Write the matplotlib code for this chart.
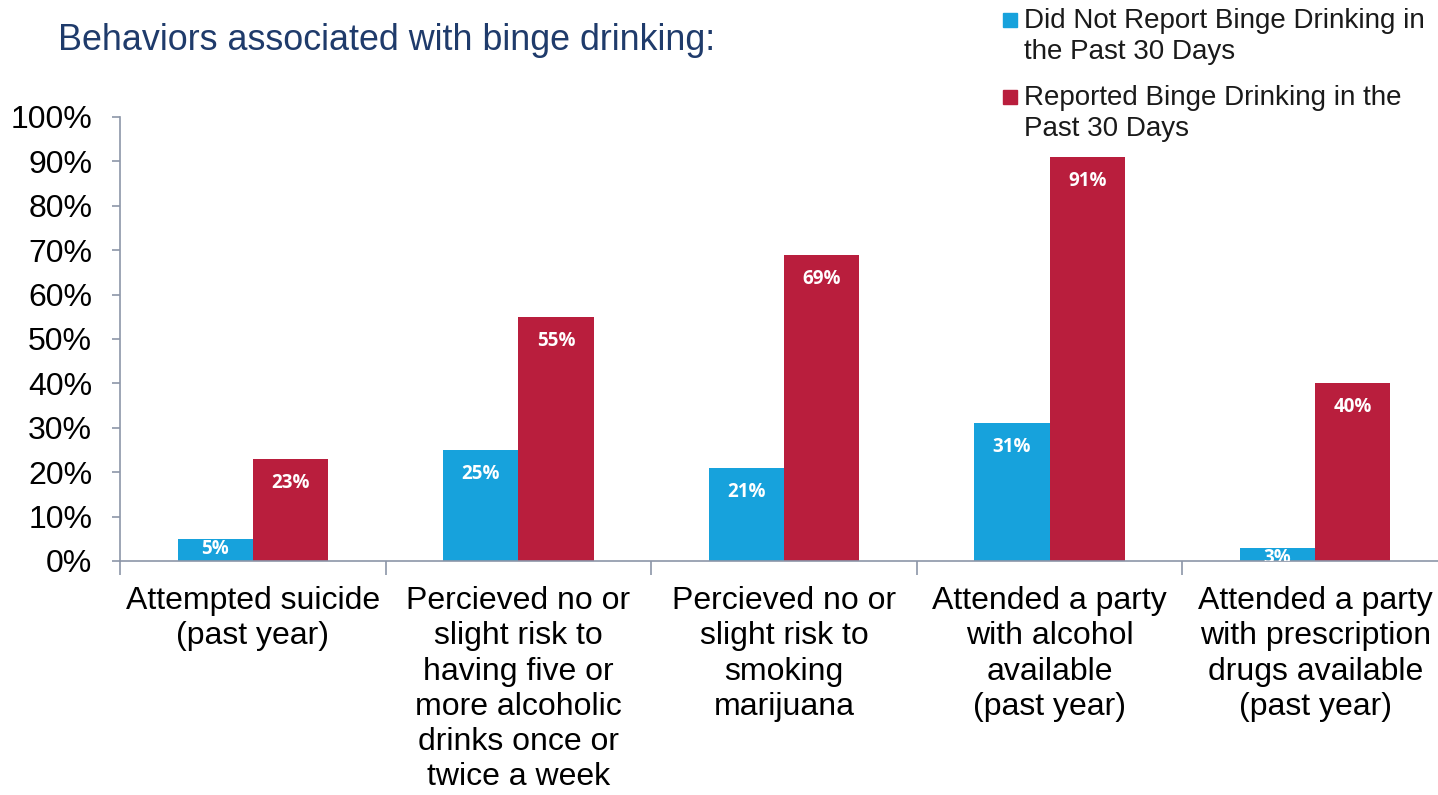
import numpy as np
import matplotlib.pyplot as plt
from matplotlib.patches import Rectangle

categories = [
    "Attempted suicide\n(past year)",
    "Percieved no or\nslight risk to\nhaving five or\nmore alcoholic\ndrinks once or\ntwice a week",
    "Percieved no or\nslight risk to\nsmoking\nmarijuana",
    "Attended a party\nwith alcohol\navailable\n(past year)",
    "Attended a party\nwith prescription\ndrugs available\n(past year)",
]
series_names = [
    "Did Not Report Binge Drinking in\nthe Past 30 Days",
    "Reported Binge Drinking in the\nPast 30 Days",
]
no_binge = [5, 25, 21, 31, 3]
binge = [23, 55, 69, 91, 40]
colors = ["#17A2DC", "#B91E3D"]

plt.rcParams["font.family"] = ["Liberation Sans", "DejaVu Sans"]

W, H = 1438, 795
fig = plt.figure(figsize=(W / 100, H / 100), dpi=100)
ax = fig.add_axes([120 / W, 1 - 561 / H, 5 * 265.6 / W, (561 - 117) / H])

x = np.arange(len(categories))
width = 0.283
for j, (vals, col) in enumerate(zip([no_binge, binge], colors)):
    xs = x + (j - 0.5) * width
    ax.bar(xs, vals, width, color=col, edgecolor="none", zorder=2)
    for xi, v in zip(xs, vals):
        yl = v - 5.4 if v >= 10 else v - 2.3
        ax.text(xi, yl, f"{v}%", ha="center", va="center", color="white",
                fontsize=13.5, fontweight="bold", family=["Open Sans", "DejaVu Sans"],
                clip_on=True, zorder=3)

ax.set_xlim(-0.5, len(categories) - 0.5)
ax.set_ylim(0, 100)
ax.set_yticks(np.arange(0, 101, 10))
ax.set_yticklabels([f"{t}%" for t in range(0, 101, 10)], fontsize=23)
ax.set_xticks(x)
ax.set_xticklabels(categories, fontsize=23, linespacing=1.23)
ax.set_xticks(np.arange(-0.5, len(categories)), minor=True)
ax.tick_params(axis="x", which="major", length=0, pad=18)
ax.tick_params(axis="x", which="minor", length=10, color="#8C96A8", width=1.2)
ax.tick_params(axis="y", length=6, color="#8C96A8", width=1.2, pad=14)

for s in ["top", "right"]:
    ax.spines[s].set_visible(False)
for s in ["left", "bottom"]:
    ax.spines[s].set_color("#8C96A8")
    ax.spines[s].set_linewidth(1.2)

fig.text(58 / W, 1 - 40 / H, "Behaviors associated with binge drinking:",
         fontsize=25.8, color="#1F3B6B", va="center", ha="left")

# legend
leg_y = [20, 97]
for name, col, yy in zip(series_names, colors, leg_y):
    fig.add_artist(Rectangle((1003 / W, 1 - (yy + 7) / H), 14 / W, 14 / H,
                             transform=fig.transFigure, color=col))
    fig.text(1024 / W, 1 - (yy - 12) / H, name, fontsize=20, va="top", ha="left",
             linespacing=1.27, color="#1A1A1A")

fig.savefig("out.png", dpi=100)
